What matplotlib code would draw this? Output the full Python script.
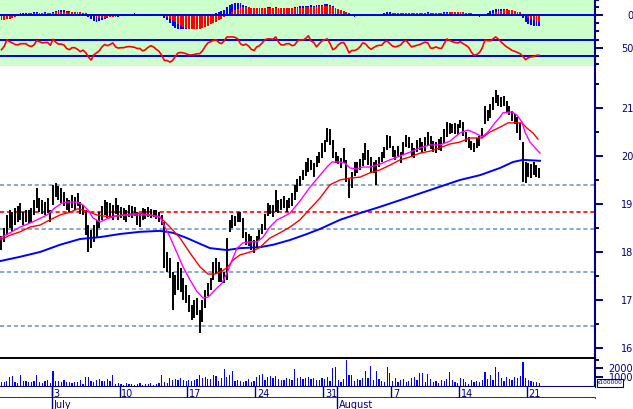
import numpy as np
import matplotlib
matplotlib.use("Agg")
import matplotlib.pyplot as plt
from matplotlib.patches import Rectangle

plt.rcParams['font.family'] = ['DejaVu Sans']
plt.rcParams['lines.scale_dashes'] = False

# ---------------- data (hourly-like bars, 5 per trading day) ----------------
first_day = -4          # trading-day index of first bar's day (July 3 = 0)
bars_per_day = 5

high = [
    18.33, 18.50, 18.77, 18.88, 18.83, 18.92, 18.96, 19.02, 18.83, 18.88,
    18.88, 18.92, 19.08, 19.33, 19.13, 19.08, 19.04, 19.13, 18.88, 19.40,
    19.44, 19.38, 19.33, 19.25, 19.13, 19.08, 19.19, 19.15, 19.23, 19.04,
    18.98, 18.88, 18.56, 18.46, 18.56, 18.67, 18.83, 18.96, 19.08, 19.04,
    19.02, 18.98, 19.13, 18.98, 18.94, 18.92, 18.88, 18.98, 18.96, 18.94,
    18.83, 18.79, 18.92, 18.90, 18.94, 18.90, 18.88, 18.88, 18.83, 18.77,
    18.62, 18.00, 17.88, 17.58, 17.52, 17.79, 17.67, 17.46, 17.31, 17.10,
    16.90, 17.00, 17.04, 16.79, 17.00, 17.21, 17.35, 17.46, 17.79, 17.88,
    17.79, 17.67, 17.58, 18.29, 18.67, 18.77, 18.75, 18.83, 18.83, 18.71,
    18.42, 18.38, 18.33, 18.25, 18.33, 18.46, 18.58, 18.79, 19.02, 18.98,
    18.98, 19.29, 19.08, 19.10, 19.17, 19.08, 19.13, 19.23, 19.40, 19.52,
    19.58, 19.71, 19.88, 19.96, 19.92, 19.85, 20.00, 20.08, 20.27, 20.33,
    20.58, 20.56, 20.33, 20.08, 20.00, 19.96, 20.17, 19.92, 19.54, 19.67,
    19.88, 19.88, 19.94, 20.06, 20.27, 20.13, 19.98, 19.88, 19.92, 19.98,
    20.08, 20.19, 20.44, 20.42, 20.21, 20.13, 20.21, 20.08, 20.29, 20.44,
    20.40, 20.27, 20.17, 20.33, 20.38, 20.29, 20.40, 20.50, 20.42, 20.31,
    20.29, 20.35, 20.40, 20.56, 20.71, 20.69, 20.67, 20.69, 20.67, 20.75,
    20.71, 20.50, 20.40, 20.31, 20.27, 20.38, 20.42, 20.58, 21.04, 20.96,
    21.08, 21.23, 21.38, 21.27, 21.23, 21.25, 21.15, 21.04, 20.94, 20.88,
    20.81, 20.69, 20.29, 19.88, 19.85, 19.83, 19.88, 19.81, 19.75,
]
low = [
    18.04, 18.21, 18.35, 18.50, 18.42, 18.56, 18.63, 18.67, 18.56, 18.63,
    18.58, 18.63, 18.77, 18.92, 18.83, 18.79, 18.77, 18.81, 18.63, 18.98,
    19.15, 19.08, 19.02, 18.96, 18.88, 18.83, 18.92, 18.88, 18.96, 18.79,
    18.77, 18.35, 18.00, 18.08, 18.21, 18.31, 18.50, 18.67, 18.77, 18.71,
    18.71, 18.67, 18.79, 18.67, 18.71, 18.67, 18.63, 18.73, 18.71, 18.75,
    18.56, 18.52, 18.67, 18.69, 18.73, 18.71, 18.73, 18.69, 18.63, 18.56,
    17.67, 17.58, 17.46, 16.79, 17.10, 17.21, 17.17, 17.00, 16.94, 16.75,
    16.58, 16.63, 16.69, 16.31, 16.54, 16.83, 17.08, 17.21, 17.42, 17.54,
    17.38, 17.38, 17.35, 17.42, 18.42, 18.50, 18.54, 18.63, 18.63, 18.29,
    18.15, 18.13, 18.04, 17.98, 18.08, 18.25, 18.38, 18.46, 18.75, 18.79,
    18.73, 18.83, 18.81, 18.88, 18.92, 18.83, 18.92, 18.96, 19.08, 19.25,
    19.38, 19.50, 19.58, 19.67, 19.71, 19.56, 19.77, 19.85, 19.96, 20.08,
    20.29, 20.23, 19.96, 19.85, 19.83, 19.75, 19.85, 19.46, 19.13, 19.33,
    19.58, 19.65, 19.71, 19.79, 19.92, 19.81, 19.67, 19.65, 19.40, 19.77,
    19.88, 19.96, 20.13, 20.17, 19.98, 19.92, 20.00, 19.85, 20.02, 20.19,
    20.17, 19.98, 19.96, 20.08, 20.13, 20.06, 20.10, 20.23, 20.15, 20.08,
    20.06, 20.13, 20.10, 20.27, 20.40, 20.46, 20.48, 20.46, 20.44, 20.58,
    20.42, 20.29, 20.17, 20.13, 20.08, 20.17, 20.21, 20.38, 20.67, 20.73,
    20.79, 20.96, 21.10, 21.04, 21.02, 21.04, 20.92, 20.85, 20.73, 20.67,
    20.48, 20.33, 19.46, 19.44, 19.56, 19.54, 19.60, 19.56, 19.54,
]
volume = [  # x100000
    450, 500, 600, 1000, 1100, 500, 400, 1200, 550, 600,
    500, 450, 550, 1200, 500, 400, 550, 700, 400, 1650,
    600, 550, 450, 700, 500, 450, 400, 450, 500, 700,
    300, 1050, 1000, 600, 500, 700, 850, 550, 600, 850,
    550, 1200, 300, 350, 250, 200, 350, 250, 300, 200,
    250, 350, 200, 300, 250, 350, 200, 300, 400, 1200,
    500, 400, 900, 700, 850, 750, 900, 700, 600, 700,
    650, 750, 850, 1200, 900, 1000, 800, 850, 1200, 1150,
    600, 950, 1850, 1000, 1200, 1650, 600, 700, 650, 500,
    550, 800, 500, 650, 1000, 1250, 1300, 700, 1050, 1100,
    900, 1100, 800, 700, 750, 900, 800, 700, 1850, 900,
    1050, 850, 900, 1000, 800, 900, 750, 700, 900, 850,
    1050, 600, 2000, 2050, 700, 500, 850, 2800, 1200, 1250,
    600, 800, 750, 900, 1650, 900, 2200, 700, 1650, 800,
    600, 500, 2100, 1400, 600, 900, 500, 700, 850, 500,
    600, 900, 1000, 700, 1400, 1400, 500, 1300, 800, 500,
    600, 400, 700, 600, 800, 1500, 700, 500, 400, 900,
    850, 500, 300, 700, 500, 650, 500, 700, 1550, 800,
    1200, 700, 2100, 1550, 900, 600, 1000, 850, 700, 1050,
    900, 1100, 2550, 900, 700, 600, 500, 450, 400,
]
rsi = [
    45, 53, 70, 65, 62, 58, 57, 60, 60, 60,
    55, 53, 57, 68, 65, 62, 63, 63, 56, 71,
    64, 59, 59, 57, 48, 45, 50, 50, 46, 40,
    44, 38, 27, 19, 32, 37, 42, 52, 58, 55,
    58, 62, 52, 49, 50, 50, 52, 53, 52, 51,
    48, 48, 42, 45, 51, 55, 52, 46, 41, 31,
    18, 18, 14, 18, 28, 37, 38, 37, 35, 32,
    32, 33, 35, 35, 42, 53, 62, 65, 68, 70,
    63, 60, 67, 77, 77, 77, 76, 72, 60, 56,
    59, 54, 46, 43, 52, 55, 62, 70, 72, 72,
    71, 77, 64, 57, 57, 60, 60, 55, 57, 67,
    70, 69, 73, 80, 67, 63, 52, 60, 67, 70,
    72, 60, 45, 49, 57, 62, 63, 52, 37, 43,
    43, 46, 52, 62, 60, 52, 46, 50, 54, 56,
    56, 64, 67, 60, 54, 52, 54, 57, 65, 68,
    60, 52, 54, 56, 58, 61, 64, 62, 49, 49,
    52, 49, 48, 60, 72, 68, 65, 63, 62, 65,
    60, 56, 51, 39, 31, 33, 38, 49, 69, 68,
    67, 72, 77, 71, 64, 58, 52, 48, 43, 41,
    38, 35, 28, 20, 25, 27, 28, 31, 31,
]
macd = [  # x100
    -4.0, -3.5, -2.5, -1.5, -0.5, 0.5, 1.5, 2.0, 2.3, 2.5,
    2.7, 2.5, 3.0, 3.0, 2.8, 2.7, 3.0, 2.8, 2.3, 3.5,
    4.5, 5.3, 5.0, 5.0, 4.5, 4.0, 3.5, 3.2, 3.0, 2.3,
    1.5, 0.5, -1.5, -3.5, -5.5, -6.3, -6.0, -5.0, -3.5, -2.5,
    -2.0, -1.8, -1.5, -1.3, -1.0, -0.7, -0.5, -0.3, -0.2, 2.0,
    0.3, 0.0, 0.0, 0.0, 0.0, 0.0, 0.0, 0.0, 0.0, -0.5,
    -2.5, -5.0, -8.0, -11.0, -13.0, -13.7, -14.0, -14.0, -14.0, -13.5,
    -13.0, -12.0, -10.5, -9.0, -7.0, -5.5, -4.0, -2.0, 0.5, 2.0,
    3.5, 4.5, 5.5, 8.0, 10.0, 11.5, 12.5, 12.7, 12.0, 10.5,
    9.0, 8.0, 7.0, 6.0, 6.0, 6.5, 7.0, 7.5, 8.5, 8.0,
    7.5, 8.0, 7.5, 7.0, 7.3, 7.0, 7.0, 7.5, 8.0, 8.5,
    9.0, 9.5, 9.5, 9.8, 10.0, 9.8, 10.0, 10.3, 10.5, 11.0,
    11.3, 10.5, 9.0, 7.0, 5.5, 4.5, 3.5, 2.0, 0.5, -1.0,
    -1.3, -1.0, 0.0, 0.5, 1.0, 0.8, 0.5, 0.3, 0.2, 0.5,
    1.0, 2.0, 3.3, 3.3, 2.5, 2.0, 2.2, 1.8, 2.3, 2.8,
    2.8, 2.3, 2.0, 2.2, 2.4, 2.2, 2.5, 3.0, 2.8, 2.6,
    2.5, 2.5, 2.7, 3.2, 3.7, 3.7, 3.5, 3.3, 3.2, 3.3,
    2.5, 1.8, 1.0, 0.3, -0.5, -1.0, -1.3, -0.8, 1.0, 2.5,
    4.0, 5.3, 6.3, 6.7, 6.7, 6.5, 6.0, 5.3, 4.3, 3.0,
    2.0, 0.8, -3.0, -6.5, -9.0, -10.0, -10.7, -10.7, -10.5,
]
signal = [  # x100
    -4.7, -4.5, -4.0, -3.3, -2.5, -1.5, -0.5, 0.3, 1.0, 1.5,
    2.0, 2.2, 2.3, 2.5, 2.5, 2.5, 2.6, 2.6, 2.5, 2.6,
    3.0, 3.3, 3.5, 3.7, 3.8, 3.8, 3.7, 3.5, 3.3, 3.0,
    2.5, 2.0, 1.0, 0.0, -1.0, -2.0, -2.7, -2.7, -2.3, -2.0,
    -1.8, -1.5, -1.3, -1.0, -1.0, -0.7, -0.5, -0.4, -0.3, -0.2,
    0.0, -0.3, -0.3, -0.3, -0.3, -0.3, -0.3, -0.3, -0.3, -0.2,
    -0.8, -2.0, -3.5, -5.0, -7.0, -9.0, -10.5, -11.5, -12.5, -13.3,
    -14.0, -14.0, -14.0, -13.5, -12.5, -11.5, -10.5, -9.0, -8.0, -6.5,
    -5.0, -3.5, -2.0, -0.5, 1.0, 3.0, 5.0, 6.5, 7.5, 8.0,
    8.0, 8.0, 7.8, 7.5, 7.2, 7.0, 7.0, 7.0, 7.2, 7.3,
    7.3, 7.4, 7.4, 7.3, 7.3, 7.2, 7.1, 7.1, 7.2, 7.4,
    7.6, 7.8, 8.0, 8.2, 8.4, 8.6, 8.8, 9.0, 9.0, 9.0,
    9.0, 9.0, 8.8, 7.5, 6.5, 5.5, 4.5, 3.5, 2.5, 1.5,
    0.8, 0.3, 0.5, 0.7, 0.8, 0.8, 0.8, 0.7, 0.6, 0.6,
    0.6, 0.8, 1.2, 1.7, 2.0, 2.0, 2.1, 2.1, 2.1, 2.2,
    2.3, 2.4, 2.3, 2.3, 2.3, 2.3, 2.3, 2.4, 2.5, 2.5,
    2.5, 2.5, 2.5, 2.6, 2.7, 2.9, 3.0, 3.0, 3.0, 3.0,
    3.0, 2.8, 2.5, 2.0, 1.5, 1.0, 0.5, 0.2, 0.2, 0.6,
    1.2, 2.0, 3.0, 4.0, 4.7, 5.0, 5.2, 5.2, 5.0, 4.5,
    3.8, 3.0, 1.5, -0.5, -2.5, -4.0, -5.0, -5.8, -6.3,
]

# moving averages read at points (trading-day index, price)
fast_days = [-3.81, -3.07, -2.33, -1.60, -1.08, -0.35, 0.24, 0.76, 1.13, 1.86,
             2.30, 2.67, 3.04, 3.56, 4.07, 4.66, 5.54, 6.50, 7.24, 7.97,
             8.34, 8.71, 9.23, 9.67, 10.18, 10.71, 11.15, 11.52, 12.03, 12.54,
             12.91, 13.28, 13.65, 14.09, 14.60, 15.12, 15.56, 16.07, 16.59, 17.03,
             17.55, 18.28, 19.02, 19.76, 20.27, 20.64, 21.23, 21.60, 21.97, 22.48,
             22.92, 23.44, 24.17, 24.91, 25.65, 26.38, 27.12, 27.85, 28.59, 29.33,
             30.06, 30.65, 31.17, 31.69, 32.13, 32.64, 33.01, 33.23, 33.90, 34.26,
             34.63, 34.85, 35.22, 35.59, 35.96]
fast_vals = [18.29, 18.40, 18.52, 18.60, 18.67, 18.77, 18.92, 19.02, 19.04, 19.04,
             18.98, 18.875, 18.71, 18.625, 18.69, 18.75, 18.77, 18.77, 18.77, 18.73,
             18.52, 18.31, 17.98, 17.69, 17.42, 17.17, 17.04, 17.06, 17.21, 17.35,
             17.56, 17.83, 18.08, 18.19, 18.21, 18.21, 18.31, 18.52, 18.67, 18.73,
             18.81, 19.06, 19.35, 19.60, 19.77, 19.875, 19.875, 19.85, 19.75, 19.73,
             19.77, 19.77, 19.83, 19.92, 20.00, 20.08, 20.17, 20.23, 20.23, 20.31,
             20.48, 20.54, 20.48, 20.40, 20.50, 20.69, 20.81, 20.90, 20.92, 20.85,
             20.71, 20.50, 20.29, 20.17, 20.06]
mid_days = [-3.81, -3.07, -2.33, -1.60, -0.86, -0.13, 0.61, 1.35, 1.94, 2.60,
            3.34, 4.29, 5.25, 6.50, 7.24, 7.97, 8.71, 9.45, 10.18, 10.92,
            11.51, 12.03, 12.40, 12.91, 13.35, 13.87, 14.38, 14.83, 15.34, 16.07,
            16.81, 17.55, 18.28, 19.02, 19.76, 20.49, 21.23, 21.97, 22.70, 23.44,
            24.17, 24.91, 25.65, 26.38, 27.12, 27.85, 28.59, 29.33, 30.06, 30.80,
            31.69, 32.27, 33.01, 33.60, 34.26, 34.63, 35.00, 35.44, 35.81]
mid_vals = [18.25, 18.35, 18.42, 18.52, 18.56, 18.67, 18.77, 18.83, 18.90, 18.85,
            18.77, 18.73, 18.77, 18.81, 18.77, 18.73, 18.52, 18.29, 17.98, 17.69,
            17.54, 17.54, 17.58, 17.67, 17.83, 17.94, 17.98, 18.02, 18.10, 18.29,
            18.40, 18.52, 18.67, 18.90, 19.125, 19.40, 19.50, 19.54, 19.56, 19.65,
            19.71, 19.81, 19.92, 19.98, 20.06, 20.10, 20.17, 20.25, 20.29, 20.375,
            20.375, 20.50, 20.60, 20.69, 20.69, 20.69, 20.58, 20.48, 20.35]
slow_days = [-3.81, -2.33, -0.86, 0.61, 2.08, 3.56, 5.03, 6.50, 7.97, 8.93,
             9.96, 10.92, 11.66, 12.91, 13.87, 15.34, 16.30, 17.55, 18.80, 19.76,
             21.23, 22.70, 24.17, 25.65, 27.85, 30.06, 31.53, 33.01, 33.97, 34.70,
             35.96]
slow_vals = [17.81, 17.90, 18.00, 18.15, 18.27, 18.31, 18.375, 18.42, 18.44, 18.40,
             18.29, 18.17, 18.08, 18.04, 18.08, 18.10, 18.15, 18.25, 18.375, 18.48,
             18.67, 18.81, 18.94, 19.08, 19.29, 19.50, 19.60, 19.75, 19.875, 19.92,
             19.90]

gray_levels = [19.40, 18.47, 17.58, 16.45]
red_levels = [18.83]

day_ticks = [0, 5, 10, 15, 20, 25, 30, 35]
day_labels = ['3', '10', '17', '24', '31', '7', '14', '21']
month_ticks = [0, 21]
month_labels = ['July', 'August']

price_major = [16, 17, 18, 19, 20, 21]
price_minor = [16.5, 17.5, 18.5, 19.5, 20.5, 21.5]

# ---------------- figure ----------------
NAVY = '#000080'
BLUE = '#0000ff'
RED = '#ff0000'
MAG = '#ff00ff'
GRAY = '#7799bb'
GREEN_BG = '#ccffcc'

W, H = 633, 409
fig = plt.figure(figsize=(W / 100, H / 100), dpi=100)
fig.patch.set_facecolor('white')
RIGHT = 595.3
XMIN, XMAX = -3.807, 40.03

def add_panel(top, bottom):
    return fig.add_axes([0, 1 - bottom / H, RIGHT / W, (bottom - top) / H])

ax_macd = add_panel(0, 31.7)
ax_rsi = add_panel(31.7, 66)
ax_main = add_panel(66, 358.3)
ax_vol = add_panel(358.3, 386.7)
ax_day = add_panel(386.7, 397.7)
ax_mon = add_panel(397.7, 409)

t = first_day + (np.arange(len(high)) + 1.5) / bars_per_day

def base(ax, bg='white'):
    ax.set_facecolor(bg)
    for s in ax.spines.values():
        s.set_visible(False)
    ax.set_xlim(XMIN, XMAX)
    ax.set_xticks([])

def right_axis(ax, major, labels, minor):
    ax.spines['right'].set_visible(True)
    ax.spines['right'].set_color(NAVY)
    ax.spines['right'].set_linewidth(1.5)
    ax.yaxis.tick_right()
    ax.set_yticks(major)
    ax.set_yticklabels(labels)
    ax.set_yticks(minor, minor=True)
    ax.tick_params(axis='y', which='major', direction='out', length=6, width=1.4,
                   color=NAVY, labelcolor=NAVY, labelsize=7, pad=21.4)
    ax.tick_params(axis='y', which='minor', direction='out', length=3, width=1.4,
                   color=NAVY)
    for lab in ax.yaxis.get_majorticklabels():
        lab.set_horizontalalignment('right')

# MACD panel
base(ax_macd, GREEN_BG)
ax_macd.bar(t, macd, width=0.14, color=BLUE, linewidth=0, zorder=2)
ax_macd.bar(t, signal, width=0.14, color=RED, linewidth=0, zorder=3)
ax_macd.axhline(0, color='#0000dd', lw=1.4, zorder=4)
ax_macd.set_ylim(-16.4, 15.3)
right_axis(ax_macd, [0], ['0'], [-16, -8, 8, 15])

# RSI panel
base(ax_rsi, GREEN_BG)
ax_rsi.axhline(70, color='#0000dd', lw=1.4)
ax_rsi.axhline(30, color='#0000dd', lw=1.4)
ax_rsi.plot(t, rsi, color=RED, lw=1.2, zorder=3)
ax_rsi.set_ylim(4.25, 90)
right_axis(ax_rsi, [50], ['50'], [10, 30, 70])

# Main price panel
base(ax_main)
for lv in gray_levels:
    ax_main.axhline(lv, color=GRAY, lw=1.2, linestyle=(0, (3, 2)), zorder=1)
for lv in red_levels:
    ax_main.axhline(lv, color=RED, lw=1.2, linestyle=(0, (3, 2)), zorder=1)
ax_main.vlines(t, low, high, color='black', lw=1.4, zorder=2)
ax_main.plot(slow_days, slow_vals, color=BLUE, lw=1.4, zorder=3)
ax_main.plot(mid_days, mid_vals, color=RED, lw=1.0, zorder=4)
ax_main.plot(fast_days, fast_vals, color=MAG, lw=1.0, zorder=5)
ax_main.set_ylim(15.785, 21.875)
right_axis(ax_main, price_major, [str(v) for v in price_major], price_minor)

# Volume panel
base(ax_vol)
ax_vol.bar(t, volume, width=0.09, color=BLUE, linewidth=0)
ax_vol.set_ylim(0, 2990)
right_axis(ax_vol, [1000, 2000], ['1000', '2000'], [2780])
ax_vol.spines['top'].set_visible(True)
ax_vol.spines['top'].set_color('black')
ax_vol.spines['top'].set_linewidth(1.4)
ax_vol.spines['bottom'].set_visible(True)
ax_vol.spines['bottom'].set_color(NAVY)
ax_vol.spines['bottom'].set_linewidth(1.5)

# Day band
base(ax_day)
ax_day.set_yticks([])
ax_day.set_ylim(0, 1)
ax_day.spines['bottom'].set_visible(True)
ax_day.spines['bottom'].set_color(NAVY)
ax_day.spines['bottom'].set_linewidth(1.2)
for d, lab in zip(day_ticks, day_labels):
    ax_day.axvline(d, color=NAVY, lw=1.0)
    ax_day.annotate(lab, xy=(d, 0.1), xycoords=('data', 'axes fraction'),
                    xytext=(1.1, 0), textcoords='offset points',
                    ha='left', va='baseline', fontsize=7, color=NAVY)
for d in month_ticks:
    ax_day.axvline(d, color=NAVY, lw=1.0)

# Month band
base(ax_mon)
ax_mon.set_yticks([])
ax_mon.set_ylim(0, 1)
for d, lab in zip(month_ticks, month_labels):
    ax_mon.axvline(d, color=NAVY, lw=1.0)
    ax_mon.annotate(lab, xy=(d, 0.08), xycoords=('data', 'axes fraction'),
                    xytext=(1.3, 0), textcoords='offset points',
                    ha='left', va='baseline', fontsize=7, color=NAVY)

# volume unit box (partly covers the 1000 label, as in the original)
fig.patches.append(Rectangle((597 / W, 1 - 387 / H), 26 / W, 8.5 / H,
                             transform=fig.transFigure, facecolor='white',
                             edgecolor=NAVY, lw=0.8, zorder=5))
fig.text(610 / W, 1 - 382.8 / H, 'x100000', fontsize=4.2, color=NAVY,
         ha='center', va='center', zorder=6)

fig.savefig('out.png', dpi=100)
